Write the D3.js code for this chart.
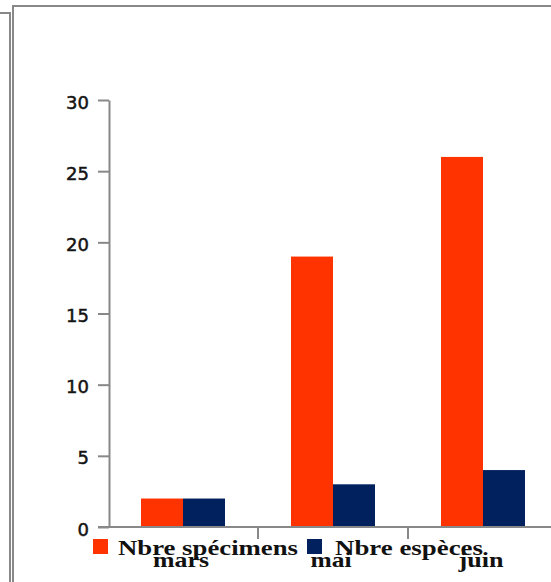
<!DOCTYPE html>
<html>
<head>
<meta charset="utf-8">
<script src="https://cdn.jsdelivr.net/npm/d3@7"></script>
<style>
  html, body { margin: 0; padding: 0; background: #fff; }
  svg { display: block; }
</style>
</head>
<body>
<svg id="chart" width="551" height="582"></svg>
<script>
// Monthly counts of specimens and species
const months = ["mars", "mai", "juin"];
const seriesNames = ["Nbre spécimens", "Nbre espèces"];
const specimens = [2, 19, 26];
const species = [2, 3, 4];
const yTicks = [0, 5, 10, 15, 20, 25, 30];
const seriesColors = ["#ff3300", "#00215e"];

const svg = d3.select("#chart");
const axisGrey = "#888888";

// Window frames
svg.append("path")
  .attr("d", "M0,13 H10 V582")
  .attr("fill", "none").attr("stroke", axisGrey).attr("stroke-width", 2);
svg.append("path")
  .attr("d", "M13,582 V6 H551")
  .attr("fill", "none").attr("stroke", axisGrey).attr("stroke-width", 2);

// Scales
const y = d3.scaleLinear().domain([0, 30]).range([527, 100]);
const x0 = d3.scaleBand().domain(months).range([108, 558]).padding(0);
const bw = x0.bandwidth();
const x1 = d3.scaleBand().domain(seriesNames).range([0.22 * bw, 0.78 * bw]).padding(0);

const values = [specimens, species];
const rows = months.map((m, i) => ({
  month: m,
  items: seriesNames.map((s, j) => ({ key: s, value: values[j][i], color: seriesColors[j] }))
}));

// Bars
const groups = svg.append("g").selectAll("g")
  .data(rows).join("g")
  .attr("transform", d => `translate(${x0(d.month)},0)`);
groups.selectAll("rect")
  .data(d => d.items).join("rect")
  .attr("x", d => x1(d.key))
  .attr("y", d => y(d.value))
  .attr("width", x1.bandwidth())
  .attr("height", d => y(0) - y(d.value))
  .attr("fill", d => d.color);

// Y axis
const yAxis = svg.append("g")
  .attr("transform", "translate(109,0)")
  .call(d3.axisLeft(y).tickValues(yTicks).tickSize(11).tickPadding(9).tickSizeOuter(0));
yAxis.select(".domain").attr("stroke", axisGrey).attr("stroke-width", 2);
yAxis.selectAll(".tick line").attr("stroke", axisGrey).attr("stroke-width", 2);
yAxis.selectAll(".tick text")
  .attr("fill", "#141414")
  .attr("stroke", "#141414")
  .attr("stroke-width", 0.5)
  .attr("font-family", "DejaVu Sans, sans-serif")
  .attr("font-size", 18)
  .attr("dy", "0.45em");

// X axis baseline and category separators
svg.append("line")
  .attr("x1", 98).attr("x2", 551)
  .attr("y1", y(0)).attr("y2", y(0))
  .attr("stroke", axisGrey).attr("stroke-width", 2);
svg.append("g").selectAll("line")
  .data(months.slice(1)).join("line")
  .attr("x1", d => x0(d)).attr("x2", d => x0(d))
  .attr("y1", y(0)).attr("y2", y(0) + 12)
  .attr("stroke", axisGrey).attr("stroke-width", 2);

// Category labels
const serif = "Liberation Serif, Times New Roman, serif";
const labelWidths = { "mars": 56, "mai": 41, "juin": 45 };
svg.append("g").selectAll("text")
  .data(months).join("text")
  .attr("x", d => x0(d) + bw / 2 - 2)
  .attr("y", 567)
  .attr("text-anchor", "middle")
  .attr("font-family", serif)
  .attr("font-weight", "bold")
  .attr("font-size", 21)
  .attr("fill", "#111")
  .attr("textLength", d => labelWidths[d])
  .attr("lengthAdjust", "spacingAndGlyphs")
  .text(d => d);

// Legend
const legendItems = [
  { name: seriesNames[0], color: seriesColors[0], sx: 93, tx: 118, w: 180 },
  { name: seriesNames[1], color: seriesColors[1], sx: 307, tx: 335, w: 148 }
];
const legend = svg.append("g");
legend.selectAll("rect")
  .data(legendItems).join("rect")
  .attr("x", d => d.sx).attr("y", 539)
  .attr("width", 15).attr("height", 15)
  .attr("fill", d => d.color);
legend.selectAll("text")
  .data(legendItems).join("text")
  .attr("x", d => d.tx).attr("y", 555)
  .attr("font-family", serif)
  .attr("font-weight", "bold")
  .attr("font-size", 21)
  .attr("fill", "#111")
  .attr("textLength", d => d.w)
  .attr("lengthAdjust", "spacingAndGlyphs")
  .text(d => d.name);
</script>
</body>
</html>
